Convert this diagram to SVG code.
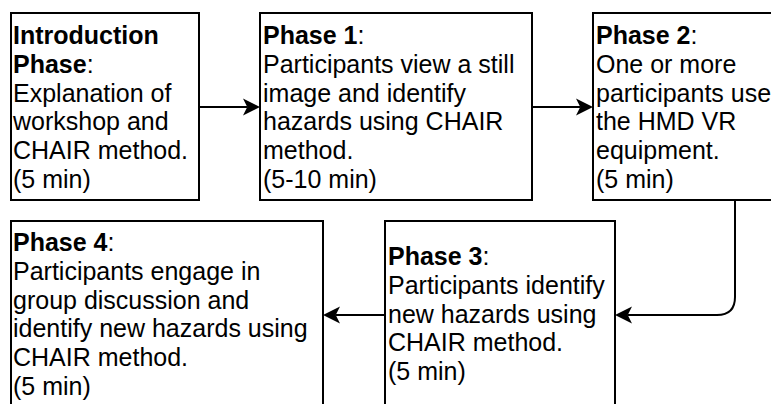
<svg xmlns="http://www.w3.org/2000/svg" width="771" height="404" viewBox="0 0 771 404">
  <defs>
    <style>
      .box { fill: #ffffff; stroke: #000000; stroke-width: 2; }
      .edge { fill: none; stroke: #000000; stroke-width: 2; }
      .lbl { font-family: "Liberation Sans", Arial, Helvetica, sans-serif; font-size: 25px; fill: #000000; }
      .b { font-weight: bold; }
    </style>
    <marker id="arrow" viewBox="-18 -10 19 20" refX="-12.75" refY="0" markerWidth="19" markerHeight="20" orient="auto" markerUnits="userSpaceOnUse">
      <path d="M0,0 L-17,-8.5 L-12.75,0 L-17,8.5 Z" fill="#000000"/>
    </marker>
  </defs>
  <rect width="771" height="404" fill="#ffffff"/>

  <g id="connectors">
    <path class="edge" d="M199,107 L247.25,107" marker-end="url(#arrow)"/>
    <path class="edge" d="M532,107 L580.25,107" marker-end="url(#arrow)"/>
    <path class="edge" d="M735,200 L735,297 Q735,315 717,315 L627.75,315" marker-end="url(#arrow)"/>
    <path class="edge" d="M385,315 L335.75,315" marker-end="url(#arrow)"/>
  </g>

  <g id="intro">
    <rect class="box" x="11" y="13" width="188" height="187"/>
    <text class="lbl" x="13">
      <tspan x="13" y="44" class="b">Introduction</tspan>
      <tspan x="13" y="72.8"><tspan class="b">Phase</tspan>:</tspan>
      <tspan x="13" y="101.6">Explanation of</tspan>
      <tspan x="13" y="130.4">workshop and</tspan>
      <tspan x="13" y="159.2">CHAIR method.</tspan>
      <tspan x="13" y="188">(5 min)</tspan>
    </text>
  </g>

  <g id="phase1">
    <rect class="box" x="260" y="13" width="272" height="187"/>
    <text class="lbl" x="263">
      <tspan x="263" y="44"><tspan class="b">Phase 1</tspan>:</tspan>
      <tspan x="263" y="72.8">Participants view a still</tspan>
      <tspan x="263" y="101.6">image and identify</tspan>
      <tspan x="263" y="130.4">hazards using CHAIR</tspan>
      <tspan x="263" y="159.2">method.</tspan>
      <tspan x="263" y="188">(5-10 min)</tspan>
    </text>
  </g>

  <g id="phase2">
    <rect class="box" x="593" y="13" width="284" height="187"/>
    <text class="lbl" x="596">
      <tspan x="596" y="44"><tspan class="b">Phase 2</tspan>:</tspan>
      <tspan x="596" y="72.8">One or more</tspan>
      <tspan x="596" y="101.6">participants use</tspan>
      <tspan x="596" y="130.4">the HMD VR</tspan>
      <tspan x="596" y="159.2">equipment.</tspan>
      <tspan x="596" y="188">(5 min)</tspan>
    </text>
  </g>

  <g id="phase3">
    <rect class="box" x="385" y="221" width="230" height="200"/>
    <text class="lbl" x="388">
      <tspan x="388" y="265"><tspan class="b">Phase 3</tspan>:</tspan>
      <tspan x="388" y="293.8">Participants identify</tspan>
      <tspan x="388" y="322.6">new hazards using</tspan>
      <tspan x="388" y="351.4">CHAIR method.</tspan>
      <tspan x="388" y="380.2">(5 min)</tspan>
    </text>
  </g>

  <g id="phase4">
    <rect class="box" x="11" y="221" width="312" height="200"/>
    <text class="lbl" x="13">
      <tspan x="13" y="251"><tspan class="b">Phase 4</tspan>:</tspan>
      <tspan x="13" y="279.8">Participants engage in</tspan>
      <tspan x="13" y="308.6">group discussion and</tspan>
      <tspan x="13" y="337.4">identify new hazards using</tspan>
      <tspan x="13" y="366.2">CHAIR method.</tspan>
      <tspan x="13" y="395">(5 min)</tspan>
    </text>
  </g>
</svg>
